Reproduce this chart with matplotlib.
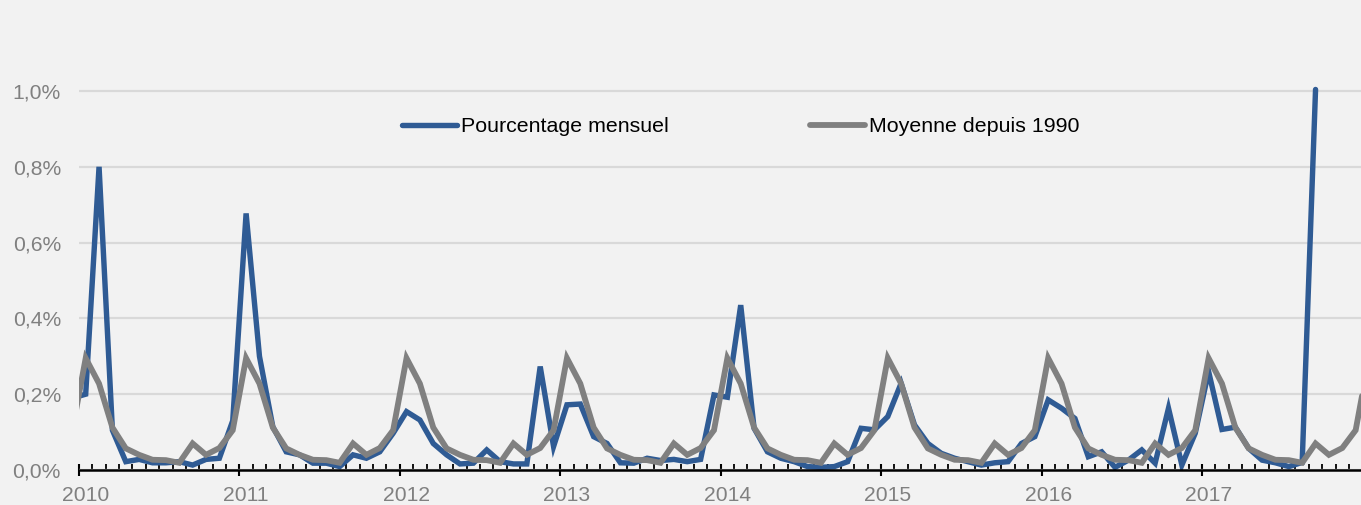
import numpy as np
import matplotlib
matplotlib.use("Agg")
import matplotlib.pyplot as plt
from matplotlib.ticker import FuncFormatter, MultipleLocator

# Part mensuelle (en %), de décembre 2009 à septembre 2017
dec_2009 = [0.19]
pct_2010 = [0.200, 0.800, 0.105, 0.022, 0.028, 0.019, 0.019, 0.022, 0.013, 0.028, 0.031, 0.130]
pct_2011 = [0.677, 0.300, 0.114, 0.048, 0.040, 0.018, 0.018, 0.009, 0.040, 0.031, 0.048, 0.097]
pct_2012 = [0.154, 0.132, 0.070, 0.040, 0.016, 0.018, 0.053, 0.022, 0.016, 0.016, 0.273, 0.062]
pct_2013 = [0.172, 0.174, 0.088, 0.070, 0.019, 0.018, 0.031, 0.025, 0.028, 0.022, 0.028, 0.198]
pct_2014 = [0.192, 0.435, 0.110, 0.048, 0.031, 0.022, 0.009, 0.007, 0.009, 0.022, 0.110, 0.106]
pct_2015 = [0.141, 0.229, 0.119, 0.070, 0.044, 0.031, 0.022, 0.013, 0.019, 0.022, 0.070, 0.088]
pct_2016 = [0.185, 0.163, 0.136, 0.035, 0.048, 0.007, 0.026, 0.053, 0.018, 0.163, 0.013, 0.097]
pct_2017 = [0.260, 0.107, 0.113, 0.057, 0.026, 0.019, 0.009, 0.020, 1.004]

# Moyenne mensuelle depuis 1990 (janvier -> décembre), identique chaque année
moyenne_1990 = [0.295, 0.228, 0.112, 0.057, 0.040, 0.027, 0.026, 0.019, 0.070, 0.040, 0.058, 0.105]

annees = ["2010", "2011", "2012", "2013", "2014", "2015", "2016", "2017"]

mensuel = (dec_2009 + pct_2010 + pct_2011 + pct_2012 + pct_2013
           + pct_2014 + pct_2015 + pct_2016 + pct_2017)
# décembre 2009 + 8 années + janvier 2018
moyenne = [moyenne_1990[11]] + moyenne_1990 * len(annees) + [moyenne_1990[0]]

# abscisse en mois depuis janvier 2010, point au milieu du mois
x_mensuel = np.arange(len(mensuel)) - 0.5
x_moyenne = np.arange(len(moyenne)) - 0.5

BLEU = "#2F5B94"
GRIS = "#808080"
FOND = "#F2F2F2"

W, H = 1361, 505
fig = plt.figure(figsize=(W / 100, H / 100), dpi=100, facecolor=FOND)
ax = fig.add_axes([79 / W, 35 / H, (W - 79) / W, 470 / H], facecolor=FOND)

l1, = ax.plot(x_mensuel, mensuel, color=BLEU, lw=3.9, solid_capstyle="round",
              solid_joinstyle="miter", label="Pourcentage mensuel", zorder=3)
l2, = ax.plot(x_moyenne, moyenne, color=GRIS, lw=4.2, solid_capstyle="round",
              solid_joinstyle="miter", label="Moyenne depuis 1990", zorder=4)

ax.set_xlim(0, 95.9)
ax.set_ylim(0, 470 / 379)

# axe des ordonnées
ax.set_yticks([0.0, 0.2, 0.4, 0.6, 0.8, 1.0])
ax.yaxis.set_major_formatter(FuncFormatter(lambda v, p: f"{v:.1f}%".replace(".", ",")))
ax.tick_params(axis="y", length=0, pad=13, labelsize=15.2, labelcolor=GRIS)
for lab in ax.get_yticklabels():
    lab.set_fontfamily("Liberation Sans")
ax.grid(axis="y", color="#D9D9D9", lw=1.6, zorder=0)
ax.grid(axis="x", visible=False)

# axe des abscisses : graduations mensuelles + années
ax.xaxis.set_major_locator(MultipleLocator(12))
ax.xaxis.set_minor_locator(MultipleLocator(1))
ax.tick_params(axis="x", which="major", direction="inout", length=9, width=1.5,
               color="black", labelbottom=False)
ax.tick_params(axis="x", which="minor", direction="in", length=4.5, width=1.3,
               color="black")
for i, a in enumerate(annees):
    ax.annotate(a, xy=(i * 12 + 0.5, 0), xycoords=ax.get_xaxis_transform(),
                xytext=(0, -22.5), textcoords="offset points", ha="center",
                va="baseline", fontsize=15.2, color=GRIS, family="Liberation Sans",
                annotation_clip=False)

for s in ["top", "right", "left"]:
    ax.spines[s].set_visible(False)
ax.spines["bottom"].set_color("black")
ax.spines["bottom"].set_linewidth(1.8)
ax.spines["bottom"].set_zorder(5)

# légende : deux entrées placées séparément
leg_kw = dict(loc="center left", bbox_transform=fig.transFigure, frameon=False,
              borderpad=0, borderaxespad=0, handlelength=2.55, handletextpad=0.2,
              prop={"family": "Liberation Sans", "size": 15.4})
leg1 = ax.legend([l1], [l1.get_label()], bbox_to_anchor=(402 / W, 1 - 127 / H), **leg_kw)
ax.add_artist(leg1)
leg2 = ax.legend([l2], [l2.get_label()], bbox_to_anchor=(810 / W, 1 - 127 / H), **leg_kw)
for lg in (leg1, leg2):
    for t in lg.get_texts():
        t.set_color("black")

fig.savefig("out.png", dpi=100, facecolor=FOND)
